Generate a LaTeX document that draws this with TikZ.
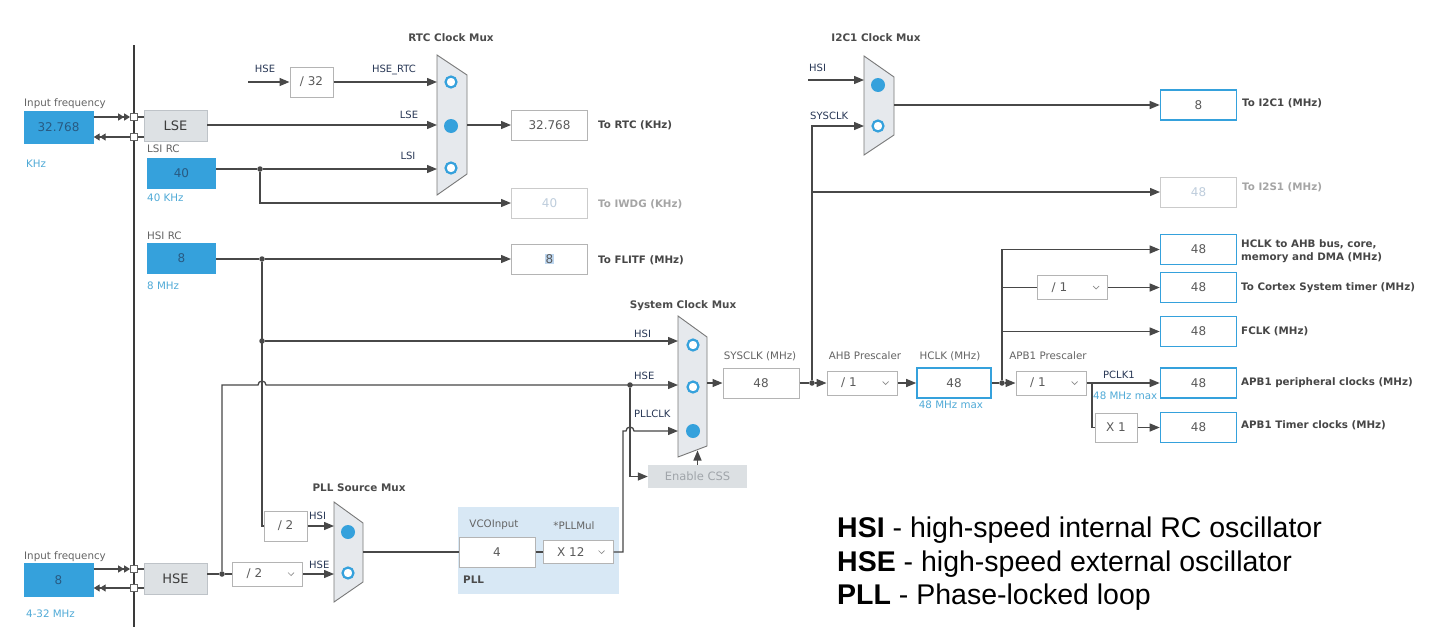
\documentclass[tikz,border=0pt]{standalone}
\usepackage{fontspec}
\setmainfont{DejaVu Sans}
\newfontfamily\legendfont{Liberation Sans}
\usetikzlibrary{arrows.meta, positioning, calc}
\definecolor{StBlue}{RGB}{53,161,220}
\definecolor{SrcText}{RGB}{40,90,130}
\definecolor{WireGray}{RGB}{72,72,72}
\definecolor{BoxGray}{RGB}{180,180,180}
\definecolor{ValGray}{RGB}{90,90,90}
\definecolor{OffVal}{RGB}{190,205,220}
\definecolor{OscGray}{RGB}{221,225,228}
\definecolor{OscEdge}{RGB}{190,195,200}
\definecolor{OscText}{RGB}{60,60,60}
\definecolor{MuxFill}{RGB}{230,233,237}
\definecolor{MuxEdge}{RGB}{120,120,120}
\definecolor{SqEdge}{RGB}{100,100,100}
\definecolor{TitleGray}{RGB}{75,75,75}
\definecolor{SigNavy}{RGB}{40,55,85}
\definecolor{LblGray}{RGB}{100,100,100}
\definecolor{NoteBlue}{RGB}{80,170,215}
\definecolor{OutGray}{RGB}{70,70,70}
\definecolor{OffGray}{RGB}{165,165,165}
\definecolor{CssGray}{RGB}{220,224,227}
\definecolor{CssText}{RGB}{160,165,170}
\definecolor{PllBlue}{RGB}{216,232,245}
\definecolor{SelBlue}{RGB}{190,215,240}
\definecolor{ChevGray}{RGB}{140,140,140}
\newcommand{\mxt}{\fontsize{10.4}{12}\selectfont\bfseries\color{TitleGray}}
\newcommand{\sgl}{\fontsize{10}{12}\selectfont\color{SigNavy}}
\newcommand{\gry}{\fontsize{10.3}{12}\selectfont\color{LblGray}}
\newcommand{\blu}{\fontsize{10.3}{12}\selectfont\color{NoteBlue}}
\newcommand{\outt}{\fontsize{10.3}{12}\selectfont\bfseries\color{OutGray}}
\newcommand{\offt}{\fontsize{10.3}{12}\selectfont\bfseries\color{OffGray}}
\newcommand{\chev}[1]{\draw[draw=ChevGray, line width=0.7pt]
    ([xshift=-15pt,yshift=1.5pt]#1.east) -- ++(3pt,-3pt) -- ++(3pt,3pt);}

\begin{document}
\begin{tikzpicture}[x=1pt, y=-1pt,
    wire/.style={draw=WireGray, line width=1.3pt},
    arr/.style={-{Triangle[length=10pt,width=8pt]}},
    dblarr/.style={-{Triangle[length=6pt,width=7pt]Triangle[length=6pt,width=7pt]}},
    valbox/.style={draw=BoxGray, fill=white, line width=1pt, inner sep=0pt,
        minimum width=76pt, minimum height=30pt,
        font=\fontsize{12}{14}\selectfont, text=ValGray},
    outbox/.style={valbox, draw=StBlue, line width=1.6pt},
    offbox/.style={valbox, draw=BoxGray!70, text=OffVal},
    srcbox/.style={fill=StBlue, inner sep=0pt, minimum width=69pt, minimum height=31pt,
        font=\fontsize{12}{14}\selectfont, text=SrcText},
    oscbox/.style={fill=OscGray, draw=OscEdge, line width=0.8pt, inner sep=0pt,
        minimum width=63pt, minimum height=31pt,
        font=\fontsize{13}{15}\selectfont, text=OscText},
    divbox/.style={valbox, minimum width=43pt},
    dropbox/.style={valbox, minimum width=70pt, minimum height=24pt,
        text width=42pt, inner xsep=14pt, align=left},
    sq/.style={draw=SqEdge, fill=white, line width=0.8pt, inner sep=0pt, minimum size=7pt},
    jdot/.style={circle, fill=WireGray, inner sep=0pt, minimum size=5.5pt},
    opt/.style={circle, draw=StBlue, line width=2.2pt, fill=white, inner sep=0pt, minimum size=11pt},
    sel/.style={circle, fill=StBlue, inner sep=0pt, minimum size=14pt},
    muxbody/.style={fill=MuxFill, draw=MuxEdge, line width=0.9pt},
    lbl/.style={inner sep=0pt},
    css/.style={fill=CssGray, inner sep=0pt, minimum width=99pt, minimum height=23pt,
        font=\fontsize{11.5}{13}\selectfont, text=CssText},
    pllarea/.style={fill=PllBlue, inner sep=0pt, minimum width=161pt, minimum height=87pt},
    legend/.style={inner sep=0pt, font=\legendfont\fontsize{28.5}{32}\selectfont, text=black}
]
\fill[white] (0,0) rectangle (1437,632);
\useasboundingbox (0,0) rectangle (1437,632);

% board edge
\draw[draw=WireGray!80!black, line width=1.2pt] (134,45) -- (134,627);

% ---- sources
\node[srcbox, minimum width=70pt, minimum height=33pt] (lsein) at (58.5,127.5) {32.768};
\node[lbl, anchor=base west] (lseinlbl) at (24,106) {\gry Input frequency};
\node[lbl, anchor=base west] (lseinunit) at (26,167) {\blu KHz};
\node[oscbox] (lse) at (175.5,126) {LSE};
\node[sq] (lsesqa) at (134,117) {};
\node[sq] (lsesqb) at (134,137) {};
\draw[wire, dblarr] (lsein.east |- lsesqa) -- (lsesqa);
\draw[wire] (lsesqa) -- (lsesqa -| lse.west);
\draw[wire] (lsesqb -| lse.west) -- (lsesqb);
\draw[wire, dblarr] (lsesqb) -- (lsesqb -| lsein.east);

\node[srcbox] (lsi) at (181.5,173.5) {40};
\node[lbl, anchor=base west] (lsilbl) at (147,152) {\gry LSI RC};
\node[lbl, anchor=base west] (lsiunit) at (147,201) {\blu 40 KHz};

\node[srcbox] (hsi) at (181.5,258.5) {8};
\node[lbl, anchor=base west] (hsilbl) at (147,239) {\gry HSI RC};
\node[lbl, anchor=base west] (hsiunit) at (147,289) {\blu 8 MHz};

\node[srcbox, minimum width=70pt, minimum height=34pt] (hsein) at (58.5,580) {8};
\node[lbl, anchor=base west] (hseinlbl) at (24,559) {\gry Input frequency};
\node[lbl, anchor=base west] (hseinunit) at (26,617) {\blu 4-32 MHz};
\node[oscbox] (hse) at (175.5,578.5) {HSE};
\node[sq] (hsesqa) at (134,569) {};
\node[sq] (hsesqb) at (134,588) {};
\draw[wire, dblarr] (hsein.east |- hsesqa) -- (hsesqa);
\draw[wire] (hsesqa) -- (hsesqa -| hse.west);
\draw[wire] (hsesqb -| hse.west) -- (hsesqb);
\draw[wire, dblarr] (hsesqb) -- (hsesqb -| hsein.east);

% ---- RTC clock mux
\draw[muxbody] (437,55) -- (467,75) -- (467,174) -- (437,195) -- cycle;
\node[opt] (rtcsa) at (451,82) {};
\node[sel] (rtcsb) at (451,126) {};
\node[opt] (rtcsc) at (451,168) {};
\coordinate (rtc-hse) at (437,82);
\coordinate (rtc-lse) at (437,125);
\coordinate (rtc-lsi) at (437,169);
\coordinate (rtc-out) at (467,125);
\node[lbl, anchor=base] (rtcttl) at (451,41) {\mxt RTC Clock Mux};

\coordinate (hsefree) at (248,82);
\node[divbox] (div32) at (311.5,82) {/ 32};
\node[lbl, anchor=base] (rtchselbl) at (265,72) {\sgl HSE};
\node[lbl, anchor=base] (rtchsertc) at (394,72) {\sgl HSE\_RTC};
\node[lbl, anchor=base] (rtclselbl) at (409,118) {\sgl LSE};
\node[lbl, anchor=base] (rtclsilbl) at (408,159) {\sgl LSI};

\node[valbox] (rtcval) at (549.5,125) {32.768};
\node[lbl, anchor=base west] (rtclbl) at (598,128) {\outt To RTC (KHz)};
\node[offbox] (iwdg) at (549.5,203) {40};
\node[lbl, anchor=base west] (iwdglbl) at (598,207) {\offt To IWDG (KHz)};
\node[valbox] (flitf) at (549.5,259) {\setlength\fboxsep{0.6pt}\colorbox{SelBlue}{8}};
\node[lbl, anchor=base west] (flitflbl) at (598,263) {\outt To FLITF (MHz)};

\node[jdot] (lsidot) at (260,169) {};
\node[jdot] (hsidot) at (262,259) {};
\node[jdot] (hsidotb) at (262,341) {};
\node[jdot] (hsedot) at (222,574) {};

\draw[wire, arr] (hsefree) -- (div32);
\draw[wire, arr] (div32) -- (rtc-hse);
\draw[wire, arr] (lse.east |- rtc-lse) -- (rtc-lse);
\draw[wire] (lsi.east |- lsidot) -- (lsidot);
\draw[wire, arr] (lsidot) -- (rtc-lsi);
\draw[wire, arr] (lsidot) |- (iwdg);
\draw[wire, arr] (rtc-out) -- (rtcval);
\draw[wire] (hsi.east |- hsidot) -- (hsidot);
\draw[wire, arr] (hsidot) -- (flitf);

% ---- PLL source mux
\draw[muxbody] (334,502) -- (363,523) -- (363,582) -- (334,602) -- cycle;
\node[sel] (pllsa) at (348,532) {};
\node[opt] (pllsb) at (348,573) {};
\coordinate (pll-hsi) at (334,526);
\coordinate (pll-hse) at (334,574);
\coordinate (pll-out) at (363,552);
\node[lbl, anchor=base] (pllttl) at (359,491) {\mxt PLL Source Mux};
\node[lbl, anchor=base west] (pllhsilbl) at (309,519) {\sgl HSI};
\node[lbl, anchor=base west] (pllhselbl) at (309,568) {\sgl HSE};

\node[divbox] (hsidiv) at (285.5,526) {/ 2};
\node[dropbox] (hsediv) at (267.5,574) {/ 2};
\chev{hsediv}
\draw[wire] (hsidot) |- (hsidiv);
\draw[wire, arr] (hsidiv) -- (pll-hsi);
\draw[wire] (hse.east |- hsedot) -- (hsedot);
\draw[wire] (hsedot) -- (hsediv);
\draw[wire, arr] (hsediv) -- (pll-hse);

% ---- PLL
\node[pllarea] (pll) at (538.5,550.5) {};
\node[valbox] (vco) at (497,552) {4};
\node[dropbox, minimum height=23pt] (pllmul) at (578,552) {X 12};
\chev{pllmul}
\node[lbl, anchor=base] (vcolbl) at (494,527) {\gry VCOInput};
\node[lbl, anchor=base] (mullbl) at (574,529) {\gry *PLLMul};
\node[lbl, anchor=base west] (plllbl) at (463,583) {\mxt PLL};
\draw[wire] (pll-out) -- (vco);
\draw[wire] (vco) -- (pllmul);

% ---- system clock mux
\draw[muxbody] (678,316) -- (707,337) -- (707,446) -- (678,457) -- cycle;
\node[opt] (syssa) at (693,345) {};
\node[opt] (syssb) at (693,387) {};
\node[sel] (syssc) at (693,431) {};
\coordinate (sys-hsi) at (678,341);
\coordinate (sys-hse) at (678,385);
\coordinate (sys-pll) at (678,431);
\coordinate (sys-out) at (707,383);
\coordinate (sys-css) at (697.5,450.5);
\coordinate (hse-hop) at (262,385);
\coordinate (pll-up) at (623,431);
\coordinate (pll-hop) at (630,431);
\node[lbl, anchor=base] (systtl) at (683,308) {\mxt System Clock Mux};
\node[lbl, anchor=base west] (syshsilbl) at (634,337) {\sgl HSI};
\node[lbl, anchor=base west] (syshselbl) at (634,379) {\sgl HSE};
\node[lbl, anchor=base west] (sysplllbl) at (634,417) {\sgl PLLCLK};

\node[jdot] (cssdot) at (630,385) {};
\node[css] (css) at (697.5,476.5) {Enable CSS};
\draw[wire, arr] (hsidotb) -- (sys-hsi);
\draw[wire, arr] (hsedot) |- ([xshift=-4pt]hse-hop) arc[start angle=180, end angle=0, radius=4pt] -- (sys-hse);
\draw[wire, arr] (pllmul) -| (pll-up) -- ([xshift=-4pt]pll-hop) arc[start angle=180, end angle=0, radius=4pt] -- (sys-pll);
\draw[wire, arr] (cssdot) |- (css);
\draw[wire, arr] (css) -- (sys-css);

% ---- AHB / APB chain
\node[valbox] (sysclk) at (761,383) {48};
\node[lbl, anchor=base] (sysclklbl) at (760,359) {\gry SYSCLK (MHz)};
\node[jdot] (sysdot) at (812,383) {};
\node[dropbox] (ahb) at (862,383) {/ 1};
\chev{ahb}
\node[lbl, anchor=base] (ahblbl) at (865,359) {\gry AHB Prescaler};
\node[outbox, minimum width=74pt] (hclk) at (954,383) {48};
\node[lbl, anchor=base] (hclklbl) at (950,359) {\gry HCLK (MHz)};
\node[lbl, anchor=base] (hclkmax) at (951,408) {\blu 48 MHz max};
\node[jdot] (hclkdot) at (1002,383) {};
\node[dropbox] (apb) at (1051,383) {/ 1};
\chev{apb}
\node[lbl, anchor=base] (apblbl) at (1048,359) {\gry APB1 Prescaler};

\draw[wire, arr] (sys-out) -- (sysclk);
\draw[wire] (sysclk) -- (sysdot);
\draw[wire, arr] (sysdot) -- (ahb);
\draw[wire, arr] (ahb) -- (hclk);
\draw[wire] (hclk) -- (hclkdot);
\draw[wire, arr] (hclkdot) -- (apb);

% ---- I2C1 clock mux
\draw[muxbody] (864,56) -- (894,77) -- (894,135) -- (864,155) -- cycle;
\node[sel] (i2csa) at (878,85) {};
\node[opt] (i2csb) at (878,126) {};
\coordinate (i2c-hsi) at (864,80);
\coordinate (i2c-sys) at (864,126);
\coordinate (i2c-out) at (894,105);
\coordinate (i2chsifree) at (808,80);
\node[lbl, anchor=base] (i2cttl) at (876,41) {\mxt I2C1 Clock Mux};
\node[lbl, anchor=base west] (i2chsilbl) at (809,71) {\sgl HSI};
\node[lbl, anchor=base west] (i2csyslbl) at (810,119) {\sgl SYSCLK};

% ---- outputs
\node[outbox] (i2c) at (1198.5,105) {8};
\node[lbl, anchor=base west] (i2clbl) at (1242,106) {\outt To I2C1 (MHz)};
\node[offbox] (i2s) at (1198.5,192) {48};
\node[lbl, anchor=base west] (i2slbl) at (1242,190) {\offt To I2S1 (MHz)};
\node[outbox] (ahbbus) at (1198.5,249.5) {48};
\node[lbl, anchor=base west] (ahbbuslbl) at (1241,247) {\outt HCLK to AHB bus, core,};
\node[lbl, anchor=base west] (ahbbuslblb) at (1241,260) {\outt memory and DMA (MHz)};
\node[outbox] (cortex) at (1198.5,287.5) {48};
\node[lbl, anchor=base west] (cortexlbl) at (1241,290) {\outt To Cortex System timer (MHz)};
\node[outbox] (fclk) at (1198.5,331.5) {48};
\node[lbl, anchor=base west] (fclklbl) at (1241,334) {\outt FCLK (MHz)};
\node[outbox] (apbper) at (1198.5,383) {48};
\node[lbl, anchor=base west] (apbperlbl) at (1241,385) {\outt APB1 peripheral clocks (MHz)};
\node[outbox] (apbtim) at (1198.5,427.5) {48};
\node[lbl, anchor=base west] (apbtimlbl) at (1241,428) {\outt APB1 Timer clocks (MHz)};

\draw[wire, arr] (i2chsifree) -- (i2c-hsi);
\draw[wire, arr] (sysdot) |- (i2c-sys);
\draw[wire, arr] (sysdot |- i2s) -- (i2s);
\draw[wire, arr] (i2c-out) -- (i2c);

\node[dropbox] (cortexdiv) at (1072.5,287.5) {/ 1};
\chev{cortexdiv}
\draw[wire, arr] (hclkdot) |- (ahbbus);
\draw[wire] (hclkdot |- cortexdiv) -- (cortexdiv);
\draw[wire, arr] (cortexdiv) -- (cortex);
\draw[wire, arr] (hclkdot |- fclk) -- (fclk);

\coordinate (apbsplit) at (1092,383);
\node[valbox, minimum width=42pt, minimum height=29pt] (timx) at (1116,427.5) {X 1};
\node[lbl, anchor=base west] (pclklbl) at (1103,378) {\sgl PCLK1};
\node[lbl, anchor=base west] (pclkmax) at (1093,399) {\blu 48 MHz max};
\draw[wire, arr] (apb) -- (apbper);
\draw[wire] (apbsplit) |- (timx);
\draw[wire, arr] (timx) -- (apbtim);

% ---- legend
\node[legend, anchor=base west] (leghsi) at (837,537) {\textbf{HSI} - high-speed internal RC oscillator};
\node[legend, anchor=base west] (leghse) at (837,571) {\textbf{HSE} - high-speed external oscillator};
\node[legend, anchor=base west] (legpll) at (837,604) {\textbf{PLL} - Phase-locked loop};
\end{tikzpicture}
\end{document}
